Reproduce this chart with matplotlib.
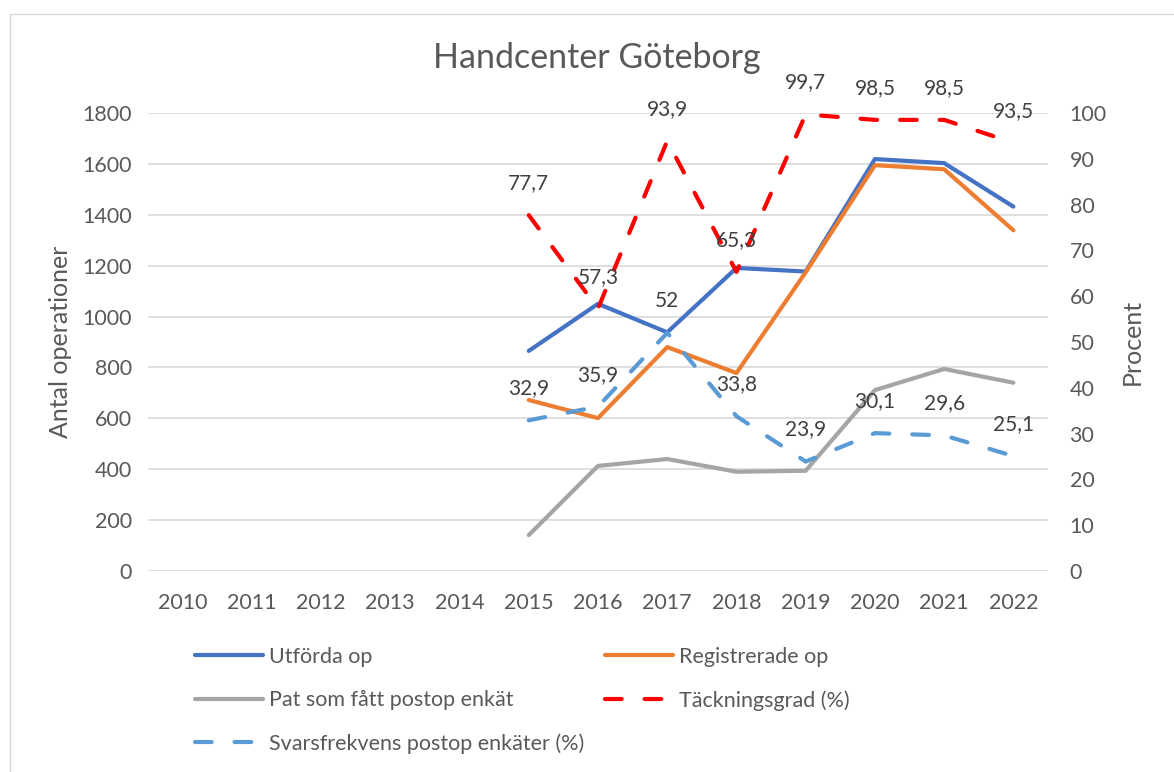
import matplotlib.pyplot as plt
from matplotlib.patches import Rectangle

plt.rcParams["font.family"] = ["Lato", "DejaVu Sans"]

years = ["2010", "2011", "2012", "2013", "2014", "2015", "2016",
         "2017", "2018", "2019", "2020", "2021", "2022"]
data_years = ["2015", "2016", "2017", "2018", "2019", "2020", "2021", "2022"]

utforda = [865, 1050, 938, 1191, 1177, 1619, 1603, 1432]
registrerade = [672, 601, 880, 778, 1174, 1595, 1579, 1339]
pat_enkat = [141, 413, 440, 390, 394, 711, 794, 740]
tackningsgrad = [77.7, 57.3, 93.9, 65.3, 99.7, 98.5, 98.5, 93.5]
svarsfrekvens = [32.9, 35.9, 52, 33.8, 23.9, 30.1, 29.6, 25.1]

label_color = "#595959"
grid_color = "#D9D9D9"
W, H = 1174, 772

fig = plt.figure(figsize=(W / 100, H / 100), dpi=100)
ax = fig.add_axes([148 / W, 1 - 571 / H, 900 / W, 458 / H])
ax2 = ax.twinx()

xpos = [years.index(y) for y in data_years]

lw = 3.0
l1, = ax.plot(xpos, utforda, color="#4472C4", lw=lw, solid_capstyle="round",
              solid_joinstyle="round", label="Utförda op")
l2, = ax.plot(xpos, registrerade, color="#ED7D31", lw=lw, solid_capstyle="round",
              solid_joinstyle="round", label="Registrerade op")
l3, = ax.plot(xpos, pat_enkat, color="#A5A5A5", lw=lw, solid_capstyle="round",
              solid_joinstyle="round", label="Pat som fått postop enkät")
l4, = ax2.plot(xpos, tackningsgrad, color="#FF0000", lw=lw, dashes=(4, 5.5),
               dash_capstyle="round", label="Täckningsgrad (%)")
l5, = ax2.plot(xpos, svarsfrekvens, color="#5B9BD5", lw=lw, dashes=(4, 5.5),
               dash_capstyle="round", label="Svarsfrekvens postop enkäter (%)")

# data labels above the percent series
for series in (tackningsgrad, svarsfrekvens):
    for x, v in zip(xpos, series):
        ax2.annotate(f"{v:g}".replace(".", ","), (x, v), xytext=(0, 23),
                     textcoords="offset points", ha="center", va="center",
                     fontsize=15, color="#404040")

ax.set_xlim(-0.5, len(years) - 0.5)
ax.set_xticks(range(len(years)))
ax.set_xticklabels(years)
ax.set_ylim(0, 1800)
ax.set_yticks(range(0, 1801, 200))
ax2.set_ylim(0, 100)
ax2.set_yticks(range(0, 101, 10))

ax.grid(axis="y", color=grid_color, lw=1.2)
ax.set_axisbelow(True)
for a in (ax, ax2):
    for s in a.spines.values():
        s.set_visible(False)
    a.tick_params(length=0, labelsize=15.5, labelcolor=label_color)
ax.tick_params(axis="y", pad=11.5)
ax.tick_params(axis="x", pad=15.5)
ax2.tick_params(axis="y", pad=15.5)

ax.set_ylabel("Antal operationer", fontsize=18, color=label_color)
ax2.set_ylabel("Procent", fontsize=18, color=label_color)
ax.yaxis.set_label_coords(-0.084, 0.5)
ax2.yaxis.set_label_coords(1.081, 0.5)

fig.text(597 / W, 1 - 58 / H, "Handcenter Göteborg", ha="center",
         va="center", fontsize=24.5, color=label_color)

legend_kw = dict(loc="upper left", frameon=False, fontsize=15.5,
                 labelcolor=label_color, handlelength=3.15, handletextpad=0.3,
                 labelspacing=1.07, borderpad=0, borderaxespad=0)
left_handles = [l1, l3, l5]
right_handles = [l2, l4]
fig.legend(left_handles, [h.get_label() for h in left_handles],
           bbox_to_anchor=(195 / W, 1 - 647 / H), **legend_kw)
fig.legend(right_handles, [h.get_label() for h in right_handles],
           bbox_to_anchor=(605 / W, 1 - 647 / H), **legend_kw)

fig.add_artist(Rectangle((10 / W, -0.02), 1.0, 1 - 14 / H + 0.02,
                         transform=fig.transFigure, fill=False,
                         edgecolor="#D9D9D9", lw=1))

fig.savefig("out.png", dpi=100)
